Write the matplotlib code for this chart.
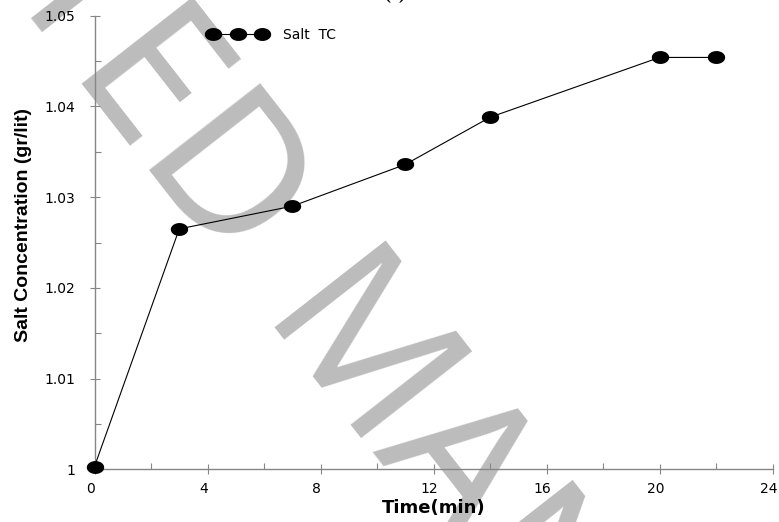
import numpy as np
import matplotlib
matplotlib.use('Agg')
import matplotlib.pyplot as plt
from matplotlib.ticker import MultipleLocator
from matplotlib.transforms import ScaledTranslation

# data
time_min = [0, 3, 7, 11, 14, 20, 22]
salt_tc = [1.0003, 1.0265, 1.0290, 1.0336, 1.0388, 1.0454, 1.0454]

x_ticks = [0, 4, 8, 12, 16, 20, 24]
y_ticks = [1.0, 1.01, 1.02, 1.03, 1.04, 1.05]
y_tick_labels = ['1', '1.01', '1.02', '1.03', '1.04', '1.05']

axis_col = '#868686'

fig = plt.figure(figsize=(7.79, 5.22), dpi=100)
ax = fig.add_axes([94.5/779, 1 - 469.3/522, (772.5 - 94.5)/779, (469.3 - 15.7)/522])
ax.set_facecolor('none')

# flat ellipse marker, like the stretched original
t = np.linspace(0, 2*np.pi, 60)
ell = np.column_stack([np.cos(t), 0.72*np.sin(t)])

ax.plot(time_min, salt_tc, color='black', lw=0.8, marker=ell, ms=11.5,
        mfc='black', mec='black', label='Salt  TC', clip_on=False, zorder=3)

ax.set_xlim(0, 24)
ax.set_ylim(1.0, 1.05)
ax.set_xticks(x_ticks)
ax.set_yticks(y_ticks)
ax.set_yticklabels(y_tick_labels)
ax.xaxis.set_minor_locator(MultipleLocator(2))
ax.yaxis.set_minor_locator(MultipleLocator(0.005))

for s in ['top', 'right']:
    ax.spines[s].set_visible(False)
for s in ['left', 'bottom']:
    ax.spines[s].set_color(axis_col)
    ax.spines[s].set_linewidth(1.0)

ax.tick_params(which='major', direction='inout', length=7, width=0.8, color=axis_col,
               labelsize=10, labelcolor='black')
ax.tick_params(axis='y', which='major', pad=10.5)
ax.tick_params(axis='x', which='major', pad=6)
ax.tick_params(which='minor', direction='in', length=4, width=0.8, color=axis_col)

# x tick labels sit a little left of their ticks in the original
shift = ScaledTranslation(-4/100, 0, fig.dpi_scale_trans)
for lab in ax.get_xticklabels():
    lab.set_family('DejaVu Sans')
    lab.set_transform(lab.get_transform() + shift)
for lab in ax.get_yticklabels():
    lab.set_family('DejaVu Sans')

ax.set_xlabel('Time(min)', fontsize=13, fontweight='bold', family='DejaVu Sans', labelpad=2)
ax.set_ylabel('Salt Concentration (gr/lit)', fontsize=14, fontweight='bold',
              family='Liberation Sans')
ax.yaxis.set_label_coords(-0.092, 0.538)

ax.legend(loc='center left', bbox_to_anchor=(209/779, 1 - 35/522), bbox_transform=fig.transFigure,
          frameon=False, borderpad=0, borderaxespad=0, numpoints=3, handlelength=4.13,
          handletextpad=1.2, prop={'family': 'DejaVu Sans', 'size': 10})

fig.text(395/779, 1 + 1/522, '(a)', ha='center', va='baseline', fontsize=13,
         fontweight='bold', family='Liberation Serif')

# watermark
wm = dict(fontsize=142, family='Noto Sans', color='#bcbcbc',
          rotation=-52, rotation_mode='anchor', va='baseline', zorder=-1)
fig.text(225/779, 1 - 268/522, 'ACCEPTED', ha='right', **wm)
fig.text(254/779, 1 - 327/522, 'MANUSCRIPT', ha='left', **wm)

fig.savefig('out.png', dpi=100)
